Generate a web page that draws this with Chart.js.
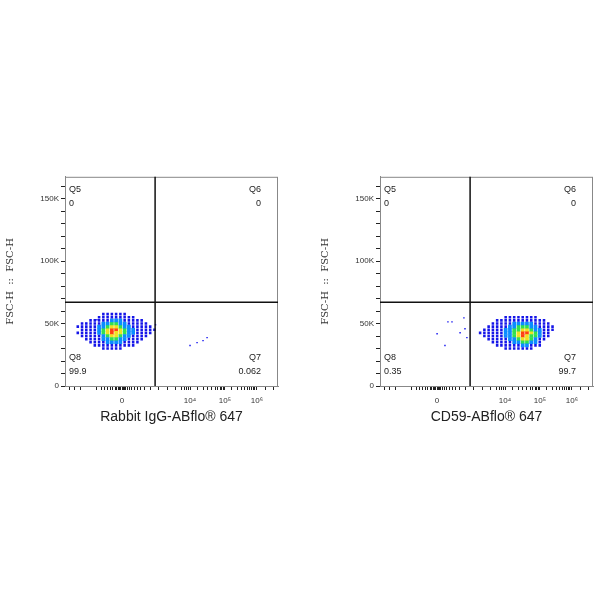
<!DOCTYPE html>
<html><head><meta charset="utf-8">
<script src="https://cdn.jsdelivr.net/npm/chart.js@4"></script>
<style>body{margin:0;background:#fff;width:600px;height:600px;position:relative;overflow:hidden}
canvas{position:absolute}</style></head><body>
<canvas id="c1" style="left:0;top:170px" width="290" height="260"></canvas>
<canvas id="c2" style="left:315px;top:170px" width="290" height="260"></canvas>
<script>
// Display-unit x axis (biexponential, 0..1000), y in FSC-H
const xMajorTicks = [268, 587, 751, 901];
const xMajorLabels = ['0', '10⁴', '10⁵', '10⁶'];
const xMinorTicks = [20,45,75,150,170,185,200,215,225,235,242,250,256,262,274,280,286,294,302,312,325,340,355,375,400,
  440,480,520,545,560,570,578,620,650,670,690,705,718,728,736,744,780,810,830,845,858,868,876,884,892,940,980];
const yTicks = [0,10000,20000,30000,40000,50000,60000,70000,80000,90000,100000,110000,120000,130000,140000,150000,160000];
const xGate = 423, yGate = 67000;
const quadLabels = ['Q5','Q6','Q7','Q8'];
const leftQuad = ['0','0','0.062','99.9'];
const rightQuad = ['0','0','99.7','0.35'];
const leftTitle = 'Rabbit IgG-ABflo® 647';
const rightTitle = 'CD59-ABflo® 647';
const yTitle = 'FSC-H  ::  FSC-H';
// density grids (rows from top y), level 0..5
const leftGrid = {x0:60, dx:20, y0:57500, dy:2500, rows:[
"0000001111110000000",
"0000011111111100000",
"0001111122211111000",
"0111112233221111100",
"1111122344322111110",
"0111123455432211111",
"1111123454432211110",
"0111112344322111100",
"0011112233221111000",
"0001111222211110000",
"0000111111111100000",
"0000001111100000000"]};
const rightGrid = {x0:470, dx:20, y0:55000, dy:2500, rows:[
"000000111111110000",
"000011111111111100",
"000111112222211110",
"001111122333221111",
"011111223344322111",
"111111223455432110",
"011111223454332110",
"001111122344321100",
"000111112233221000",
"000011111122111000",
"000000111111100000"]};
const leftStrayX = [587,620,648,667,425,150,100];
const leftStrayY = [32400,34700,36300,38700,49000,53000,50000];
const rightStrayX = [319,338,268,305,394,399,376,408];
const rightStrayY = [51300,51300,41800,32400,54500,45800,42600,38700];

const levelColors = ['', '#1515e8', '#0a8cff', '#30e050', '#f0e020', '#ff4010'];
const levelSize = [0, 1.8, 2.6, 2.6, 2.6, 2.6];

function gridDatasets(g){
  const ds=[];
  for(let lv=1;lv<=5;lv++){
    const pts=[];
    g.rows.forEach((r,i)=>{for(let j=0;j<r.length;j++){if(+r[j]===lv)pts.push({x:g.x0+j*g.dx,y:g.y0-i*g.dy});}});
    ds.push({data:pts,backgroundColor:levelColors[lv],borderWidth:0,pointStyle:'rect',pointRadius:levelSize[lv]});
  }
  return ds;
}
function make(id, grid, sx, sy, quad, title){
  const ds = gridDatasets(grid);
  ds.unshift({data:sx.map((x,i)=>({x:x,y:sy[i]})),backgroundColor:'#1010f0',borderWidth:0,pointStyle:'rect',pointRadius:1});
  const overlay = {id:'ov',afterDatasetsDraw(ch){
    const c=ch.ctx,a=ch.chartArea,xs=ch.scales.x,ys=ch.scales.y;
    c.save();
    c.strokeStyle='#888';c.lineWidth=1;c.strokeRect(a.left+0.5,a.top+0.5,a.right-a.left-1,a.bottom-a.top);
    c.strokeStyle='#111';c.lineWidth=1.5;
    const gx=xs.getPixelForValue(xGate),gy=ys.getPixelForValue(yGate);
    c.beginPath();c.moveTo(gx,a.top);c.lineTo(gx,a.bottom);c.moveTo(a.left,gy);c.lineTo(a.right,gy);c.stroke();
    c.fillStyle='#222';c.font='9px Arial, "Liberation Sans"';
    c.textAlign='left';
    c.fillText(quadLabels[0],a.left+4,a.top+15);c.fillText(quad[0],a.left+4,a.top+29);
    c.fillText(quadLabels[3],a.left+4,a.bottom-26);c.fillText(quad[3],a.left+4,a.bottom-12);
    c.textAlign='right';
    c.fillText(quadLabels[1],a.right-17,a.top+15);c.fillText(quad[1],a.right-17,a.top+29);
    c.fillText(quadLabels[2],a.right-17,a.bottom-26);c.fillText(quad[2],a.right-17,a.bottom-12);
    c.restore();
  }};
  new Chart(document.getElementById(id),{type:'scatter',data:{datasets:ds},
    options:{responsive:false,animation:false,layout:{padding:{top:4,right:12,left:0,bottom:0}},
      plugins:{legend:{display:false},tooltip:{enabled:false}},
      scales:{
        x:{type:'linear',min:0,max:1000,
          afterBuildTicks(s){s.ticks=xMajorTicks.concat(xMinorTicks).map(v=>({value:v}));},
          afterFit(s){s.height=44;},
          grid:{drawOnChartArea:false,drawTicks:true,tickLength:4,color:'#222'},
          border:{display:true,color:'#888'},
          ticks:{autoSkip:false,maxRotation:0,padding:6,color:'#333',font:{size:8,family:'Arial'},
            callback(v){const i=xMajorTicks.indexOf(v);return i>=0?xMajorLabels[i]:'';}},
          title:{display:true,text:title,color:'#222',font:{size:14,family:'Arial, "Liberation Sans"'},padding:{top:0}}},
        y:{type:'linear',min:0,max:167400,
          afterBuildTicks(s){s.ticks=yTicks.map(v=>({value:v}));},
          afterFit(s){s.width=65;},
          grid:{drawOnChartArea:false,drawTicks:true,tickLength:4,color:'#222'},
          border:{display:true,color:'#888'},
          ticks:{autoSkip:false,color:'#333',padding:2,font:{size:8,family:'Arial'},
            callback(v){return v===0?'0':(v%50000===0?(v/1000)+'K':'');}},
          title:{display:true,text:yTitle,color:'#333',font:{size:10,family:'"DejaVu Serif", serif'},padding:{bottom:14}}}
      }},plugins:[overlay]});
}
make('c1', leftGrid, leftStrayX, leftStrayY, leftQuad, leftTitle);
make('c2', rightGrid, rightStrayX, rightStrayY, rightQuad, rightTitle);
</script></body></html>
